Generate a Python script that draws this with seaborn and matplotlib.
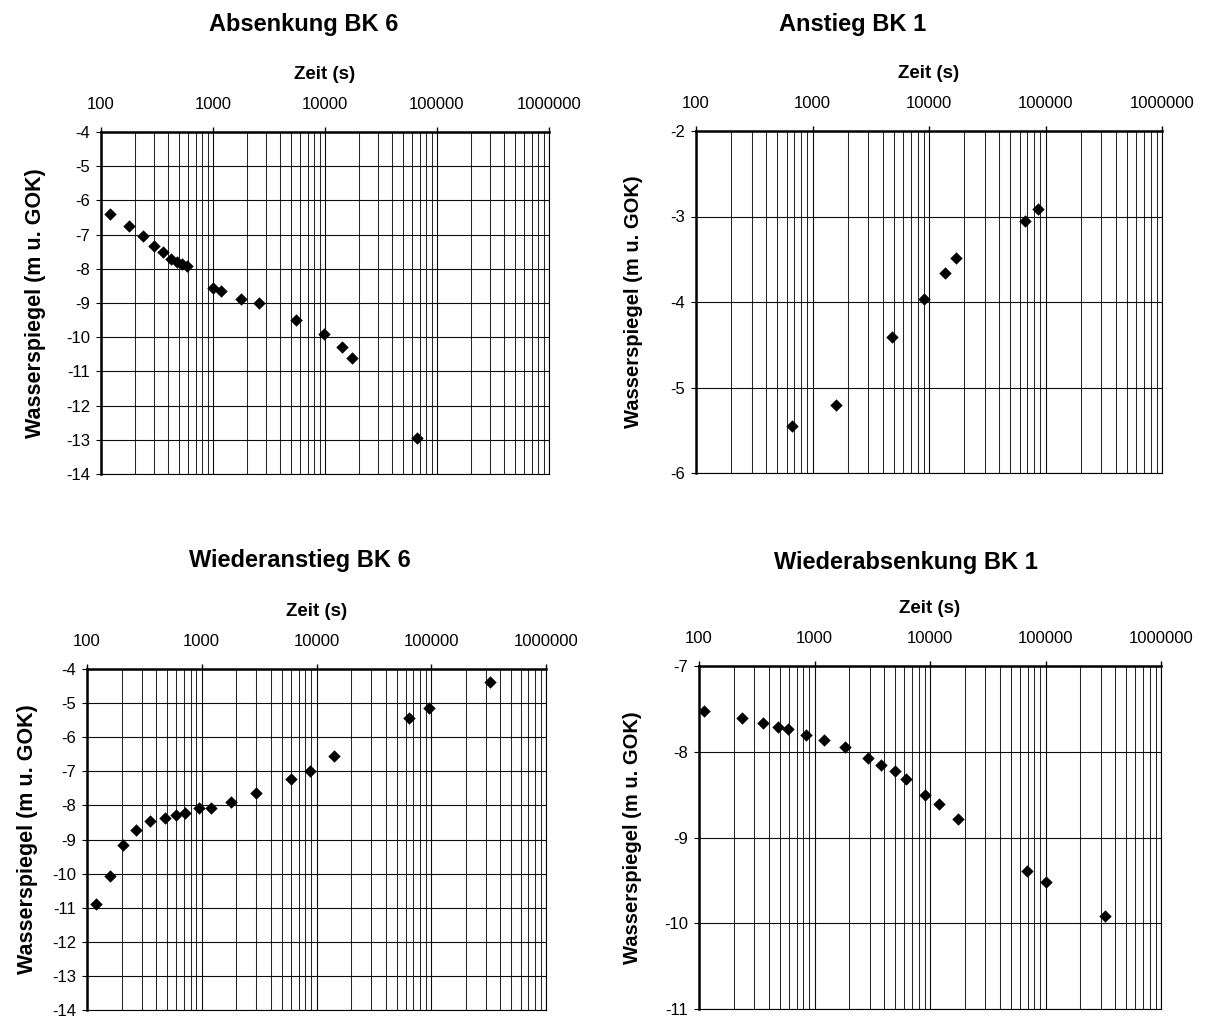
import numpy as np
import pandas as pd
import seaborn as sns
import matplotlib.pyplot as plt
from matplotlib.ticker import LogLocator, FixedLocator, FuncFormatter, NullFormatter

# --- Daten ---
# Absenkung BK 6
abs6_zeit = [120, 177, 235, 298, 356, 420, 478, 533, 591, 1000, 1187, 1787, 2567,
             5520, 9860, 14170, 17500, 66800]
abs6_ws = [-6.40, -6.74, -7.03, -7.33, -7.52, -7.70, -7.81, -7.85, -7.91, -8.57, -8.64,
           -8.88, -9.00, -9.50, -9.91, -10.29, -10.61, -12.94]

# Anstieg BK 1
an1_zeit = [664, 1594, 4859, 9146, 13680, 17110, 67000, 86100]
an1_ws = [-5.45, -5.20, -4.41, -3.96, -3.66, -3.49, -3.05, -2.91]

# Wiederanstieg BK 6
wan6_zeit = [119, 158, 208, 270, 355, 476, 593, 716, 948, 1198, 1801, 2994, 5965,
             8790, 14320, 64500, 95000, 325000]
wan6_ws = [-10.90, -10.08, -9.15, -8.73, -8.47, -8.36, -8.28, -8.21, -8.09, -8.07,
           -7.91, -7.64, -7.24, -6.98, -6.56, -5.45, -5.14, -4.39]

# Wiederabsenkung BK 1
wab1_zeit = [110, 236, 356, 484, 595, 841, 1213, 1820, 2883, 3787, 4977, 6196, 9113,
             11970, 17490, 69800, 100000, 326700]
wab1_ws = [-7.52, -7.61, -7.67, -7.71, -7.74, -7.80, -7.86, -7.94, -8.07, -8.16, -8.23,
           -8.32, -8.50, -8.61, -8.78, -9.39, -9.52, -9.91]

sns.set_style('white')
plt.rcParams['font.family'] = ['Liberation Sans', 'DejaVu Sans']
plt.rcParams.update({'text.color': 'black', 'axes.labelcolor': 'black',
                     'xtick.color': 'black', 'ytick.color': 'black'})

W, H = 1209, 1017
fig = plt.figure(figsize=(W / 100, H / 100), dpi=100)

def px_axes(l, t, r, b):
    return fig.add_axes([l / W, 1 - b / H, (r - l) / W, (b - t) / H])

panels = [
    # titel, zeit, ws, ylim, axes box (px), titel pos (px), ylabel x, ylabel size
    ('Absenkung BK 6', abs6_zeit, abs6_ws, (-14, -4), (101, 132, 549, 474), (304, 24), -0.123, 15.5),
    ('Anstieg BK 1', an1_zeit, an1_ws, (-6, -2), (696, 131, 1162, 473), (853, 24), -0.114, 14.5),
    ('Wiederanstieg BK 6', wan6_zeit, wan6_ws, (-14, -4), (87, 669, 546, 1010), (300, 560), -0.107, 15.5),
    ('Wiederabsenkung BK 1', wab1_zeit, wab1_ws, (-11, -7), (699, 666, 1161, 1009), (906, 562), -0.123, 14.5),
]

for titel, zeit, ws, ylim, box, tpos, ylx, ylsize in panels:
    ax = px_axes(*box)
    df = pd.DataFrame({'Zeit': zeit, 'Wasserspiegel': ws})
    sns.scatterplot(data=df, x='Zeit', y='Wasserspiegel', ax=ax, marker='D',
                    color='black', s=40, linewidth=0, zorder=3)
    ax.set_xscale('log')
    ax.set_xlim(100, 1e6)
    ax.set_ylim(*ylim)
    ax.yaxis.set_major_locator(FixedLocator(np.arange(ylim[0], ylim[1] + 1, 1)))
    ax.yaxis.set_major_formatter(FuncFormatter(lambda v, p: f'{int(v)}'))
    ax.xaxis.set_major_locator(LogLocator(base=10, numticks=10))
    ax.xaxis.set_minor_locator(LogLocator(base=10, subs=np.arange(2, 10), numticks=20))
    ax.xaxis.set_major_formatter(FuncFormatter(lambda v, p: f'{int(round(v))}'))
    ax.xaxis.set_minor_formatter(NullFormatter())

    ax.xaxis.tick_top()
    ax.xaxis.set_label_position('top')
    ax.tick_params(axis='x', which='major', direction='out', length=3.6, width=1,
                   pad=11, labelsize=12, color='black')
    ax.tick_params(axis='x', which='minor', length=0)
    ax.tick_params(axis='y', which='major', direction='out', length=3.6, width=0.8,
                   pad=4, labelsize=12, color='black', left=True)

    ax.grid(which='major', axis='both', color='0.05', linewidth=0.8)
    ax.grid(which='minor', axis='x', color='0.15', linewidth=0.75)
    ax.set_axisbelow(True)

    for side in ['top', 'left']:
        ax.spines[side].set_linewidth(1.8)
        ax.spines[side].set_color('black')
    for side in ['right', 'bottom']:
        ax.spines[side].set_linewidth(0.8)
        ax.spines[side].set_color('black')

    ax.set_xlabel('Zeit (s)', fontsize=13.5, fontweight='bold', labelpad=13)
    ax.set_ylabel('Wasserspiegel (m u. GOK)', fontsize=ylsize, fontweight='bold')
    ax.yaxis.set_label_coords(ylx, 0.5)

    fig.text(tpos[0] / W, 1 - tpos[1] / H, titel, ha='center', va='center',
             fontsize=17, fontweight='bold')

fig.savefig('out.png', dpi=100)
